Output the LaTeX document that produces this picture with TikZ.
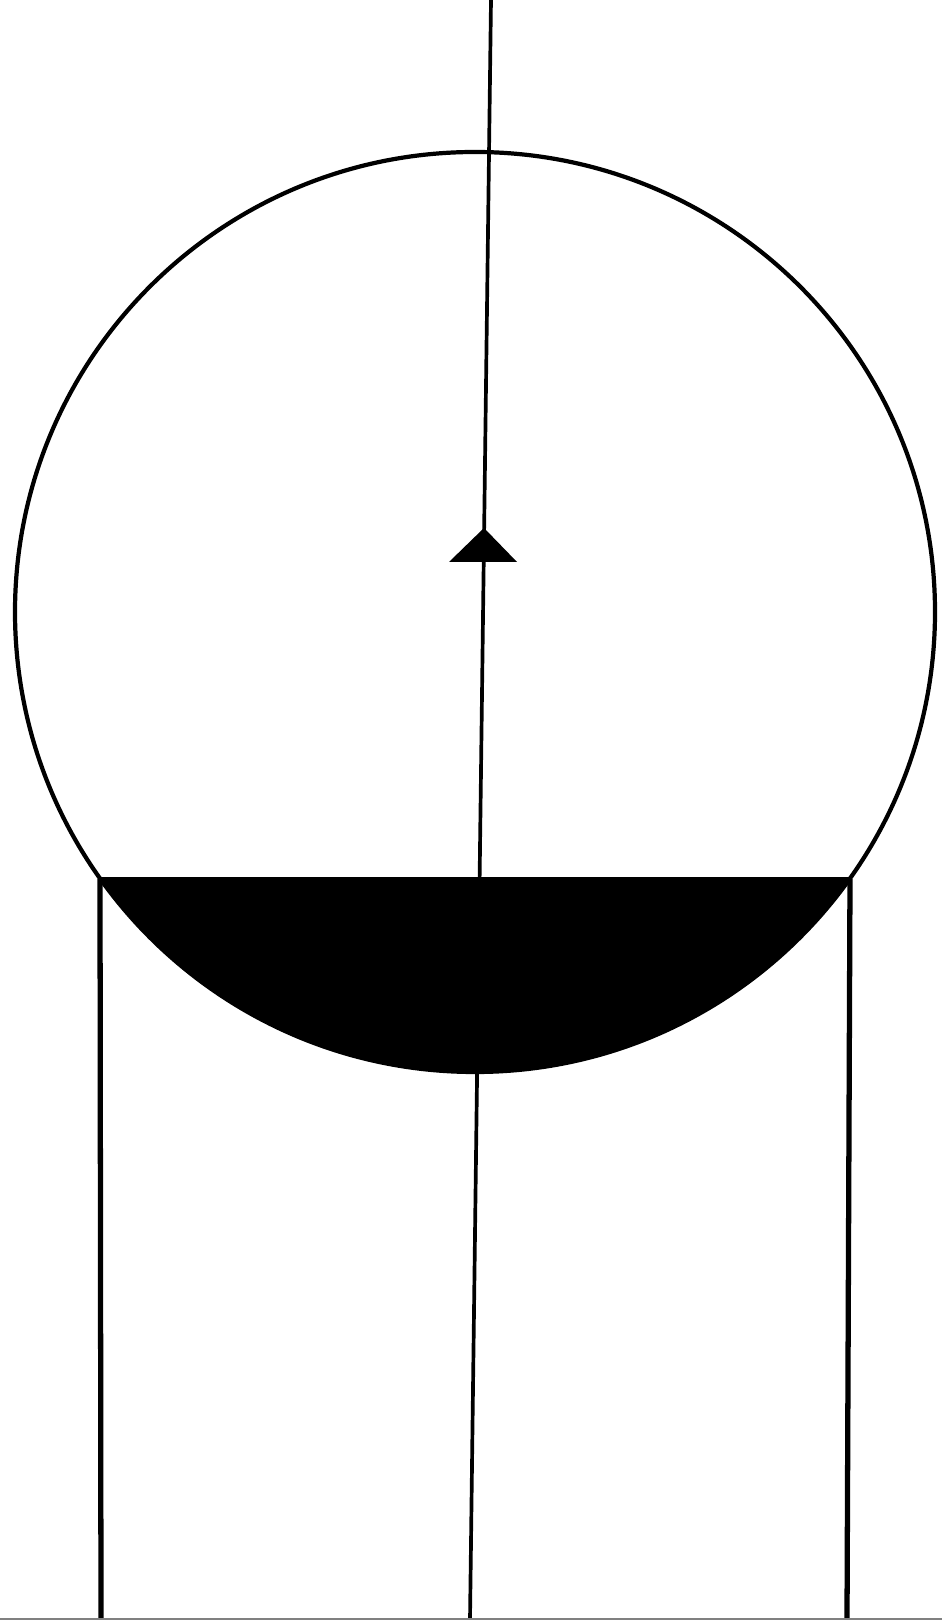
\documentclass[tikz,border=0pt]{standalone}
\usepackage{xcolor}
\usepackage{tikz}
\usetikzlibrary{positioning}

\tikzset{
  rim/.style={line width=2.4pt},
  leg/.style={line width=3pt},
  axis/.style={line width=2.1pt}
}

\begin{document}
\begin{tikzpicture}[x=0.02cm, y=0.02cm]
        \useasboundingbox (0,0) rectangle (942,1620);
        \coordinate (O) at (475,1008);
        \coordinate (L) at (100,741);
        \coordinate (R) at (850,741);
        \coordinate (Lb) at (101,0);
        \coordinate (Rb) at (847,0);
        \coordinate (top) at (491,1620);
        \coordinate (bot) at (470,0);
        \coordinate (tip) at (484,1092);
        \coordinate (tl) at (449,1058);
        \coordinate (tr) at (517,1058);
        \draw [axis] (top) -- (bot);
        \draw [rim] (O) circle [radius=460];
        \fill (L) arc [start angle=215.45, end angle=324.55, radius=460] -- cycle;
        \draw [rim] (L) -- (R);
        \draw [leg] (L) -- (Lb);
        \draw [leg] (R) -- (Rb);
        \fill (tip) -- (tr) -- (tl) -- cycle;
        \draw [gray, line width=0.8pt] (0,1) -- (942,1);
    \end{tikzpicture}
\end{document}
